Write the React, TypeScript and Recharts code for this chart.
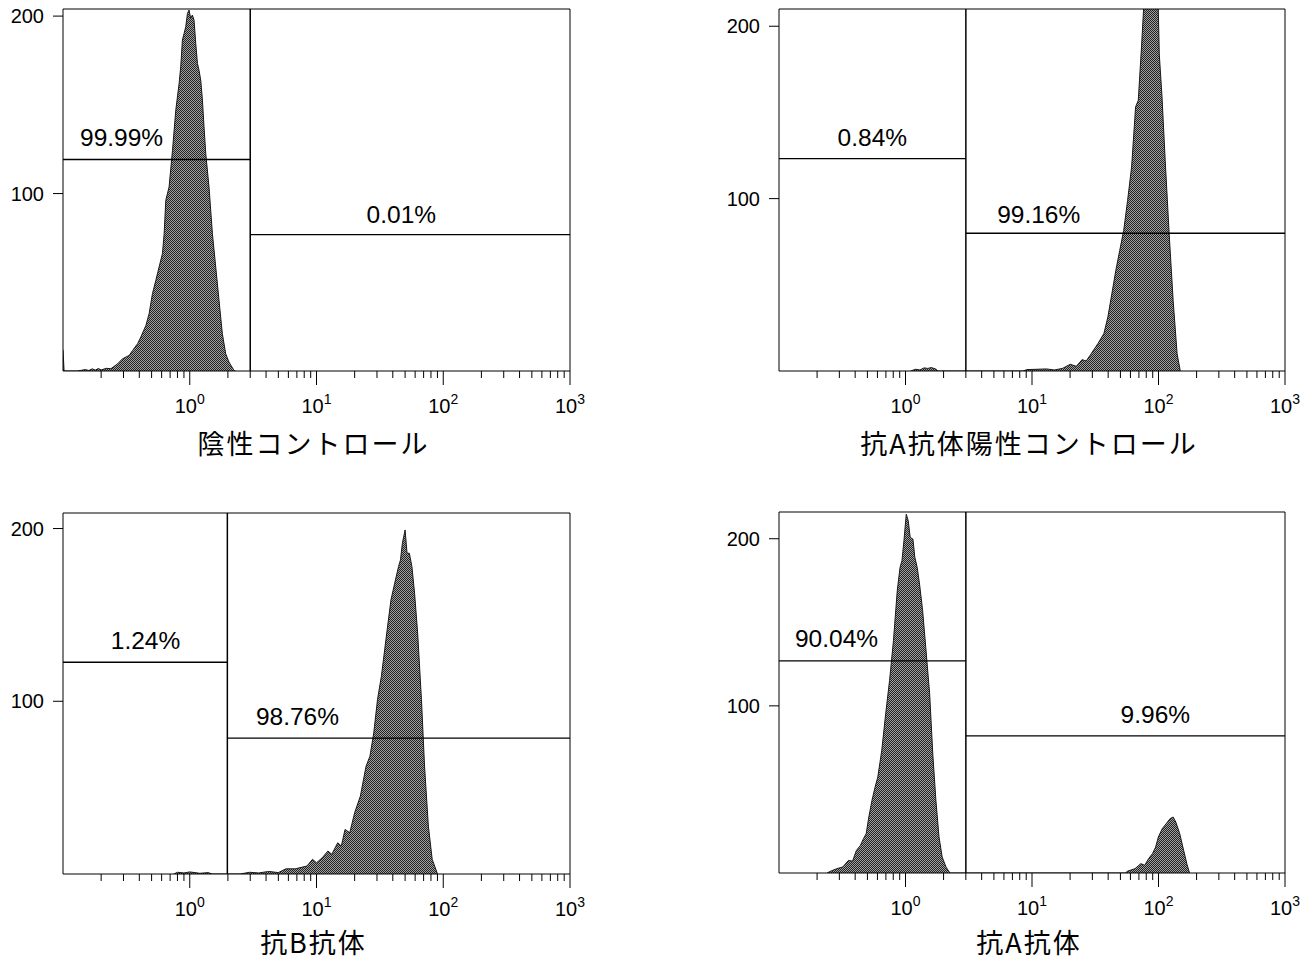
import React from "react";
import {
  ComposedChart,
  Area,
  XAxis,
  YAxis,
  ReferenceLine,
  ReferenceArea,
  ReferenceDot,
} from "recharts";

// fluorescence intensity (x) and cell counts (y)
const negCtrlX = [0.1, 0.102, 0.13, 0.15, 0.16, 0.17, 0.18, 0.19, 0.2, 0.22, 0.239, 0.27, 0.295, 0.333, 0.354, 0.388, 0.411, 0.451, 0.478, 0.508, 0.54, 0.573, 0.609, 0.628, 0.647, 0.687, 0.731, 0.776, 0.824, 0.849, 0.875, 0.902, 0.93, 0.959, 0.987, 1.018, 1.049, 1.081, 1.115, 1.15, 1.183, 1.221, 1.259, 1.296, 1.337, 1.419, 1.509, 1.603, 1.702, 1.808, 1.92, 2.04, 2.235, 2.3];
const negCtrlY = [12, 0, 0, 0.8, 0.3, 1.2, 0.5, 1.4, 0.6, 1.5, 1.3, 4.1, 6.9, 8.8, 11.6, 15.4, 19.1, 25.7, 32.3, 43.6, 51.1, 58.6, 66.2, 77.4, 96.2, 103.7, 124.4, 147, 162, 171.4, 186.5, 190.2, 194, 201.5, 203.4, 198.7, 200.6, 197.7, 184.6, 173.3, 169.5, 163.9, 152.6, 137.6, 122.6, 103.7, 77.4, 58.6, 39.8, 21, 9.8, 5, 0.3, 0];

const posCtrlX = [1.1, 1.2, 1.3, 1.4, 1.5, 1.6, 1.75, 1.8, 8.5, 9.1, 13, 15, 17.4, 20.1, 22.4, 24.9, 26.8, 28.8, 33.2, 37, 39.8, 42.8, 46, 49.4, 53.1, 57, 61.3, 65.9, 69.2, 73.4, 78.9, 84, 90, 97.9, 101.4, 106.6, 113, 121.4, 130.5, 140.3, 148.6];
const posCtrlY = [0, 1, 0.6, 1.8, 1.5, 2, 1, 0, 0, 0.8, 1.2, 0.6, 1.5, 3.9, 2.7, 6.6, 5.8, 9.1, 15.9, 21.7, 31.3, 44.9, 58.4, 70, 81.6, 99, 118.4, 153.2, 157, 188, 230, 245, 240, 235, 184, 159, 122, 79.7, 41, 10, 0];

const antiBX = [0.75, 0.8, 0.9, 1.0, 1.1, 1.2, 1.4, 1.5, 2.5, 2.97, 3.5, 4.2, 5, 5.74, 6.8, 8.4, 9.3, 10, 11.1, 12.3, 13.2, 14.7, 15.7, 16.8, 18.3, 20, 22.2, 24.6, 26.4, 28.3, 30.3, 32.5, 36.1, 38.7, 41.4, 44.4, 46, 47.6, 50, 51.8, 54, 56.6, 59.4, 62.8, 67.3, 71.2, 76.3, 81.8, 90.1];
const antiBY = [0, 1, 0.6, 1.2, 0.8, 0.4, 0.8, 0, 0, 1, 0.6, 1.5, 0.8, 3, 3, 4.6, 8.5, 6.5, 9.4, 13.3, 11.4, 18.1, 16.2, 25.8, 23.9, 35.5, 45.1, 62.4, 68.2, 81.7, 101, 114.5, 141.4, 158.8, 168.4, 178, 181.9, 191.5, 199.2, 185.7, 185.7, 178, 162.6, 139.5, 101, 62.4, 27.7, 8.5, 0];

const antiAX = [0.24, 0.258, 0.287, 0.319, 0.355, 0.381, 0.409, 0.44, 0.465, 0.489, 0.513, 0.543, 0.575, 0.604, 0.649, 0.697, 0.748, 0.803, 0.861, 0.906, 0.938, 0.972, 1.014, 1.051, 1.089, 1.144, 1.186, 1.237, 1.291, 1.366, 1.446, 1.552, 1.643, 1.739, 1.841, 1.949, 2.09, 2.245, 55, 56.5, 65.2, 72.5, 77.8, 83.5, 89.7, 94.9, 99.7, 107, 115, 123.4, 130.5, 137, 147.2, 158.1, 167.4, 175.9];
const antiAY = [0, 1.2, 2.6, 3.6, 7.6, 7, 13.5, 16.5, 20.5, 23.5, 33.5, 43.4, 51.4, 57.4, 73.3, 95.2, 115.1, 139, 169, 182.9, 186.9, 198.8, 214.7, 210.8, 200.8, 199.8, 188.8, 182.9, 172.9, 157, 135, 107.2, 71.3, 43.4, 21.5, 9.6, 3.6, 0, 0, 1, 2.6, 5.6, 4.6, 8.6, 11.6, 15.5, 21.5, 26.5, 29.5, 32.5, 33.5, 30.5, 23.5, 13.5, 5.6, 0];

const titles = ["陰性コントロール", "抗A抗体陽性コントロール", "抗B抗体", "抗A抗体"];
const leftPercents = ["99.99%", "0.84%", "1.24%", "90.04%"];
const rightPercents = ["0.01%", "99.16%", "98.76%", "9.96%"];
const gateValues = [3.0, 3.0, 1.98, 3.0];
const leftMarkerLevels = [119.2, 123.2, 122.6, 126.9];
const rightMarkerLevels = [76.9, 79.9, 78.7, 82];
const yMaxes = [204, 210, 209, 216];
const yTicks = [100, 200];

const decades = [0.1, 1, 10, 100];
const multipliers = [2, 3, 4, 5, 6, 7, 8, 9];
const xTicks = decades.flatMap((d) => [
  ...multipliers.map((m) => +(d * m).toPrecision(3)),
  +(d * 10).toPrecision(3),
]);

const seriesX = [negCtrlX, posCtrlX, antiBX, antiAX];
const seriesY = [negCtrlY, posCtrlY, antiBY, antiAY];

// plot rectangles in page pixels, label anchors in data units
const layout = [
  { left: 63, top: 9, width: 507, height: 362, titleY: 443, leftAt: [0.29, 131.7], rightAt: [46.7, 88.3] },
  { left: 779, top: 9, width: 506, height: 362, titleY: 443, leftAt: [0.547, 135.6], rightAt: [11.3, 90.9] },
  { left: 63, top: 513, width: 507, height: 361, titleY: 942, leftAt: [0.448, 135.5], rightAt: [7.08, 91.5] },
  { left: 779, top: 512, width: 506, height: 361, titleY: 942, leftAt: [0.285, 140.3], rightAt: [94.4, 95] },
];

const FONT = '"Liberation Sans", Arial, Helvetica, sans-serif';
const Y_AXIS_W = 63;

function LogTick(props: any) {
  const { x, y, payload } = props;
  const e = Math.log10(payload.value);
  const major = Math.abs(e - Math.round(e)) < 1e-6;
  return (
    <g>
      <line x1={x} y1={y} x2={x} y2={y + (major ? 14 : 7)} stroke="#000" strokeWidth={1} />
      {major && (
        <text x={x} y={y + 42} textAnchor="middle" fontSize={20} fill="#000" fontFamily={FONT}>
          10
          <tspan dy={-9} fontSize={14}>
            {Math.round(e)}
          </tspan>
        </text>
      )}
    </g>
  );
}

function Panel({ i }: { i: number }) {
  const L = layout[i];
  const gate = gateValues[i];
  const yMax = yMaxes[i];
  const data = seriesX[i].map((x, k) => ({ x, count: seriesY[i][k] }));
  const pid = `halftone${i}`;
  const chartW = Y_AXIS_W + L.width + 22;
  const chartH = 5 + L.height + 60;
  return (
    <>
      <div style={{ position: "absolute", left: L.left - Y_AXIS_W, top: L.top - 5 }}>
        <ComposedChart
          width={chartW}
          height={chartH}
          data={data}
          margin={{ top: 5, right: 22, bottom: 0, left: 0 }}
        >
          <defs>
            <pattern id={pid} width={2} height={2} patternUnits="userSpaceOnUse">
              <rect width={2} height={2} fill="#a0a0a0" />
              <rect width={1} height={1} fill="#222" />
              <rect x={1} y={1} width={1} height={1} fill="#222" />
            </pattern>
          </defs>
          <XAxis
            dataKey="x"
            type="number"
            scale="log"
            domain={[0.1, 1000]}
            allowDataOverflow
            ticks={xTicks}
            interval={0}
            tick={<LogTick />}
            tickLine={false}
            tickSize={0}
            tickMargin={0}
            axisLine={false}
            height={60}
          />
          <YAxis
            type="number"
            domain={[0, yMax]}
            allowDataOverflow
            ticks={yTicks}
            interval={0}
            width={Y_AXIS_W}
            axisLine={false}
            tickLine={{ stroke: "#000" }}
            tickSize={10}
            tickMargin={9}
            tick={{ fill: "#000", fontSize: 20, fontFamily: FONT }}
          />
          <Area
            type="linear"
            dataKey="count"
            stroke="#1a1a1a"
            strokeWidth={1}
            fill={`url(#${pid})`}
            fillOpacity={1}
            isAnimationActive={false}
          />
          <ReferenceArea
            x1={0.1}
            x2={1000}
            y1={0}
            y2={yMax}
            fill="none"
            fillOpacity={0}
            stroke="#000"
            strokeWidth={1}
            strokeOpacity={1}
          />
          <ReferenceLine x={gate} stroke="#000" strokeWidth={1.5} />
          <ReferenceLine
            segment={[
              { x: 0.1, y: leftMarkerLevels[i] },
              { x: gate, y: leftMarkerLevels[i] },
            ]}
            stroke="#000"
            strokeWidth={1.3}
          />
          <ReferenceLine
            segment={[
              { x: gate, y: rightMarkerLevels[i] },
              { x: 1000, y: rightMarkerLevels[i] },
            ]}
            stroke="#000"
            strokeWidth={1.3}
          />
          <ReferenceDot
            x={L.leftAt[0]}
            y={L.leftAt[1]}
            r={1}
            fill="none"
            stroke="none"
            label={{ value: leftPercents[i], position: "center", fill: "#000", fontSize: 24.5, fontFamily: FONT }}
          />
          <ReferenceDot
            x={L.rightAt[0]}
            y={L.rightAt[1]}
            r={1}
            fill="none"
            stroke="none"
            label={{ value: rightPercents[i], position: "center", fill: "#000", fontSize: 24.5, fontFamily: FONT }}
          />
        </ComposedChart>
      </div>
      <div
        style={{
          position: "absolute",
          left: L.left - 3,
          width: L.width,
          top: L.titleY - 14,
          height: 28,
          lineHeight: "28px",
          textAlign: "center",
          fontSize: 27,
          letterSpacing: 2,
          color: "#000",
          fontFamily: '"Noto Sans CJK JP", sans-serif',
          whiteSpace: "nowrap",
        }}
      >
        {titles[i]}
      </div>
    </>
  );
}

export default function App() {
  return (
    <div
      style={{
        position: "absolute",
        left: 0,
        top: 0,
        width: 1310,
        height: 962,
        background: "#fff",
        fontFamily: FONT,
        overflow: "hidden",
      }}
    >
      {[0, 1, 2, 3].map((i) => (
        <Panel key={i} i={i} />
      ))}
    </div>
  );
}
